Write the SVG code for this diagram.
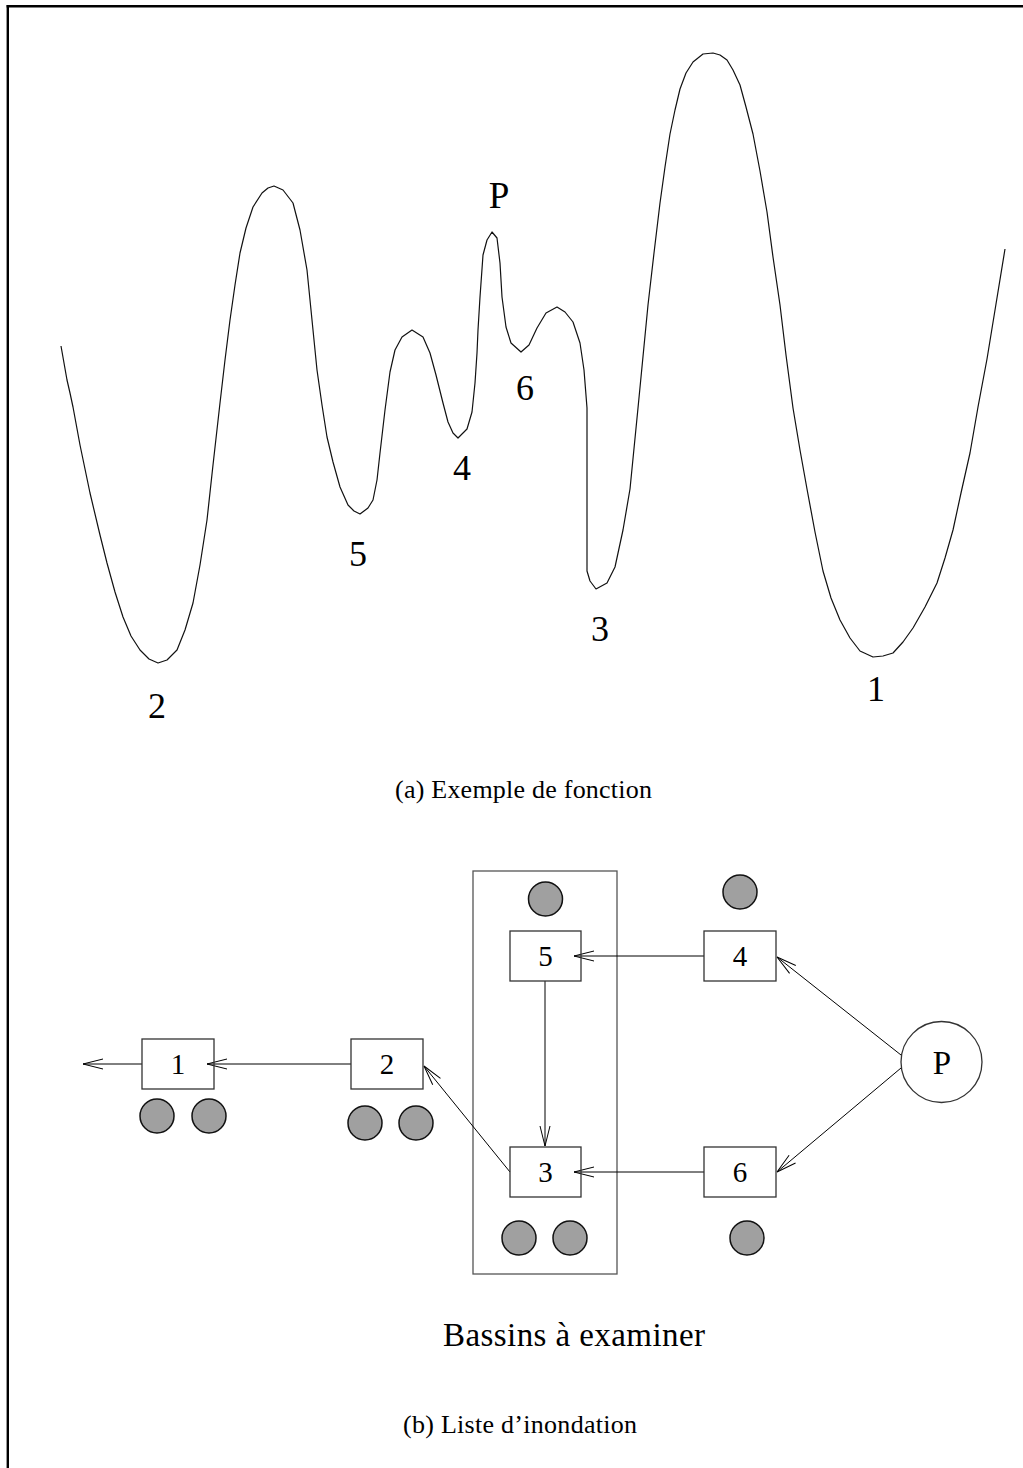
<svg xmlns="http://www.w3.org/2000/svg" width="1023" height="1468" viewBox="0 0 1023 1468">
<style>
.lbl{font-family:"Liberation Serif","Times New Roman",serif;fill:#000;text-anchor:middle}
.box{fill:none;stroke:#333;stroke-width:1.3}
.dot{fill:#a0a0a0;stroke:#111;stroke-width:1.5}
.con{stroke:#000;stroke-width:1;fill:none;marker-end:url(#ah)}
</style>
<defs>
<marker id="ah" viewBox="-21 -6 22 12" refX="0" refY="0" markerWidth="22" markerHeight="12" orient="auto" markerUnits="userSpaceOnUse">
<path d="M-20,-5 L0,0 L-20,5" fill="none" stroke="#000" stroke-width="1"/>
</marker>
</defs>
<rect width="1023" height="1468" fill="#fff"/>
<g id="frame">
<line x1="6.6" y1="6.2" x2="1023" y2="6.2" stroke="#000" stroke-width="2.4"/>
<line x1="7.8" y1="5" x2="7.8" y2="1468" stroke="#000" stroke-width="2.4"/>
</g>
<g id="curve">
<polyline fill="none" stroke="#111" stroke-width="1.2" stroke-linejoin="round" points="61,346 64,363 67,380 70,393 73,407 80,445 90,493 100,535 107,563 115,592 123,617 131,636 140,650 149,659 158,663 167,660 177,650 185,630 193,603 200,565 207,520 213,465 220,403 225,360 230,320 235,285 240,253 246,228 253,207 262,193 268,188 274,186 283,190 293,203 300,230 307,270 312,320 317,370 322,405 327,437 333,462 340,487 348,505 354,511 360,514 368,508 373,500 377,480 380,453 385,410 390,372 395,350 402,337 412,330 423,337 430,353 436,375 443,403 448,422 453,433 458,438 467,429 472,412 475,383 477,353 478,330 480,297 483,255 487,240 492,232 497,238 500,263 502,297 506,327 511,343 521,352 529,345 537,328 546,313 557,307 565,312 573,322 580,343 584,370 587,408 587,450 587,571 590,581 596,589 607,583 615,567 623,530 630,489 638,408 648,305 654,253 660,203 665,167 670,134 675,110 680,89 686,73 693,62 703,54 713,53 720,55 727,60 733,70 740,85 746,107 753,134 760,171 767,212 773,257 780,305 786,355 793,408 800,450 807,489 815,532 823,571 831,598 840,620 850,638 860,651 873,657 883,656 893,653 903,642 913,628 925,607 937,583 945,558 953,530 961,493 970,453 978,407 987,359 996,304 1005,249"/>
</g>
<g id="curve-labels">
<text class="lbl" x="499" y="208" font-size="37">P</text>
<text class="lbl" x="157" y="718" font-size="36">2</text>
<text class="lbl" x="358" y="566" font-size="36">5</text>
<text class="lbl" x="462" y="480" font-size="36">4</text>
<text class="lbl" x="525" y="400" font-size="36">6</text>
<text class="lbl" x="600" y="641" font-size="36">3</text>
<text class="lbl" x="876" y="701" font-size="36">1</text>
</g>
<text class="lbl" x="523.5" y="798" font-size="26" textLength="257">(a) Exemple de fonction</text>
<g id="basin-group">
<rect x="473" y="871" width="144" height="403" fill="none" stroke="#555" stroke-width="1.3"/>
</g>
<g id="connectors">
<line class="con" x1="142" y1="1064" x2="83" y2="1064"/>
<line class="con" x1="351" y1="1064" x2="207" y2="1064"/>
<line class="con" x1="510" y1="1172" x2="424" y2="1066"/>
<line class="con" x1="545" y1="981" x2="545" y2="1146"/>
<line class="con" x1="704" y1="956" x2="574" y2="956"/>
<line class="con" x1="704" y1="1172" x2="574" y2="1172"/>
<line class="con" x1="901" y1="1055" x2="777" y2="957"/>
<line class="con" x1="901" y1="1068" x2="777" y2="1172"/>
</g>
<g id="node-1">
<rect class="box" x="142" y="1039" width="72" height="50"/>
<text class="lbl" x="178" y="1074" font-size="29">1</text>
<circle class="dot" cx="157" cy="1116" r="17"/>
<circle class="dot" cx="209" cy="1116" r="17"/>
</g>
<g id="node-2">
<rect class="box" x="351" y="1039" width="72" height="50"/>
<text class="lbl" x="387" y="1074" font-size="29">2</text>
<circle class="dot" cx="365" cy="1123" r="17"/>
<circle class="dot" cx="416" cy="1123" r="17"/>
</g>
<g id="node-5">
<circle class="dot" cx="545.5" cy="899" r="17"/>
<rect class="box" x="510" y="931" width="71" height="50"/>
<text class="lbl" x="545.5" y="966" font-size="29">5</text>
</g>
<g id="node-3">
<rect class="box" x="510" y="1147" width="71" height="50"/>
<text class="lbl" x="545.5" y="1182" font-size="29">3</text>
<circle class="dot" cx="519" cy="1238" r="17"/>
<circle class="dot" cx="570" cy="1238" r="17"/>
</g>
<g id="node-4">
<circle class="dot" cx="740" cy="892" r="17"/>
<rect class="box" x="704" y="931" width="72" height="50"/>
<text class="lbl" x="740" y="966" font-size="29">4</text>
</g>
<g id="node-6">
<rect class="box" x="704" y="1147" width="72" height="50"/>
<text class="lbl" x="740" y="1182" font-size="29">6</text>
<circle class="dot" cx="747" cy="1238" r="17"/>
</g>
<g id="node-P">
<circle cx="941.5" cy="1062" r="40.5" fill="#fff" stroke="#333" stroke-width="1.3"/>
<text class="lbl" x="942" y="1074" font-size="33">P</text>
</g>
<text class="lbl" x="574" y="1346" font-size="33" textLength="262">Bassins à examiner</text>
<text class="lbl" x="520" y="1433" font-size="26" textLength="234">(b) Liste d’inondation</text>
</svg>
